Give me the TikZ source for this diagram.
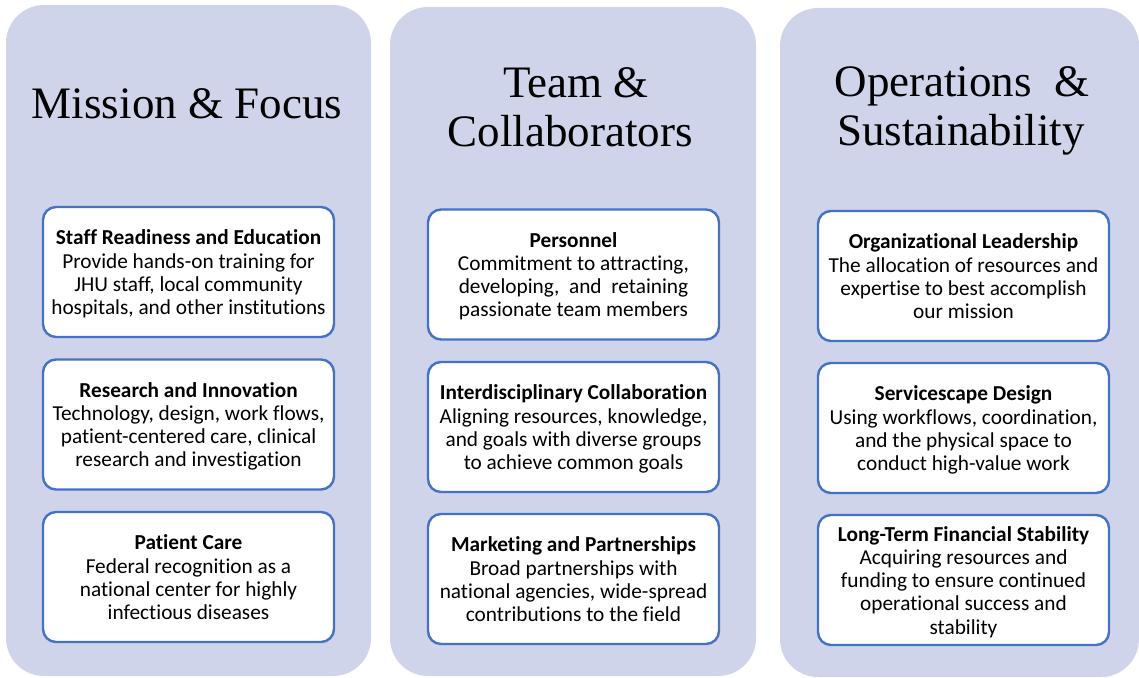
\documentclass[tikz,border=0pt]{standalone}
\usepackage{fontspec}
\setmainfont{Liberation Serif}
\newfontfamily\bodyfont[Ligatures=NoCommon]{Carlito}
\definecolor{panelfill}{RGB}{207,212,234}
\definecolor{boxline}{RGB}{68,114,196}
\newcommand{\topstrut}{\rule{0pt}{22.2pt}}
\begin{document}
\begin{tikzpicture}[x=1pt,y=-1pt,
  panel/.style={draw=none,fill=panelfill,rounded corners=38pt,minimum width=#1,inner sep=0pt,outer sep=0pt},
  card/.style={draw=boxline,line width=2.4pt,fill=white,rounded corners=13pt,minimum width=291pt,minimum height=130pt,inner sep=0pt,align=center,font=\bodyfont\fontsize{21.3pt}{23.2pt}\selectfont},
  ttl/.style={anchor=base,inner sep=0pt,font=\fontsize{45pt}{49pt}\selectfont}]
\useasboundingbox (0,0) rectangle (1139,677);
% panels
\node[panel=365pt,minimum height=671pt] (p1) at (188.5,340.5) {};
\node[panel=366pt,minimum height=669pt] (p2) at (573,341.5) {};
\node[panel=359pt,minimum height=669pt] (p3) at (959.5,342.5) {};
% titles
\node[ttl] (t1) at (187,118) {Mission \& Focus};
\node[ttl] (t2a) at (576,97) {Team \&};
\node[ttl] (t2b) at (570,146.5) {Collaborators};
\node[ttl] (t3a) at (962,96.7) {Operations\ \ \&};
\node[ttl] (t3b) at (961,145.5) {Sustainability};
% column 1
\node[card] (a1) at (188.5,272) {\topstrut\textbf{Staff Readiness and Education}\\Provide hands-on training for\\JHU staff, local community\\hospitals, and other institutions\strut};
\node[card] (a2) at (188.5,424.5) {\topstrut\textbf{Research and Innovation}\\Technology, design, work flows,\\patient-centered care, clinical\\research and investigation\strut};
\node[card] (a3) at (188.5,577) {\topstrut\textbf{Patient Care}\\Federal recognition as a\\national center for highly\\infectious diseases\strut};
% column 2
\node[card] (b1) at (573.5,274.5) {\topstrut\textbf{Personnel}\\Commitment to attracting,\\developing,\ \ and\ \ retaining\\passionate team members\strut};
\node[card] (b2) at (573.5,427) {\topstrut\textbf{Interdisciplinary Collaboration}\\Aligning resources, knowledge,\\and goals with diverse groups\\to achieve common goals\strut};
\node[card] (b3) at (573.5,579) {\topstrut\textbf{Marketing and Partnerships}\\Broad partnerships with\\national agencies, wide-spread\\contributions to the field\strut};
% column 3
\node[card] (c1) at (963.5,276) {\topstrut\textbf{Organizational Leadership}\\The allocation of resources and\\expertise to best accomplish\\our mission\strut};
\node[card] (c2) at (963.5,428) {\topstrut\textbf{Servicescape Design}\\Using workflows, coordination,\\and the physical space to\\conduct high-value work\strut};
\node[card] (c3) at (963.5,580) {\topstrut\textbf{Long-Term Financial Stability}\\Acquiring resources and\\funding to ensure continued\\operational success and\\stability\strut};
\end{tikzpicture}
\end{document}
